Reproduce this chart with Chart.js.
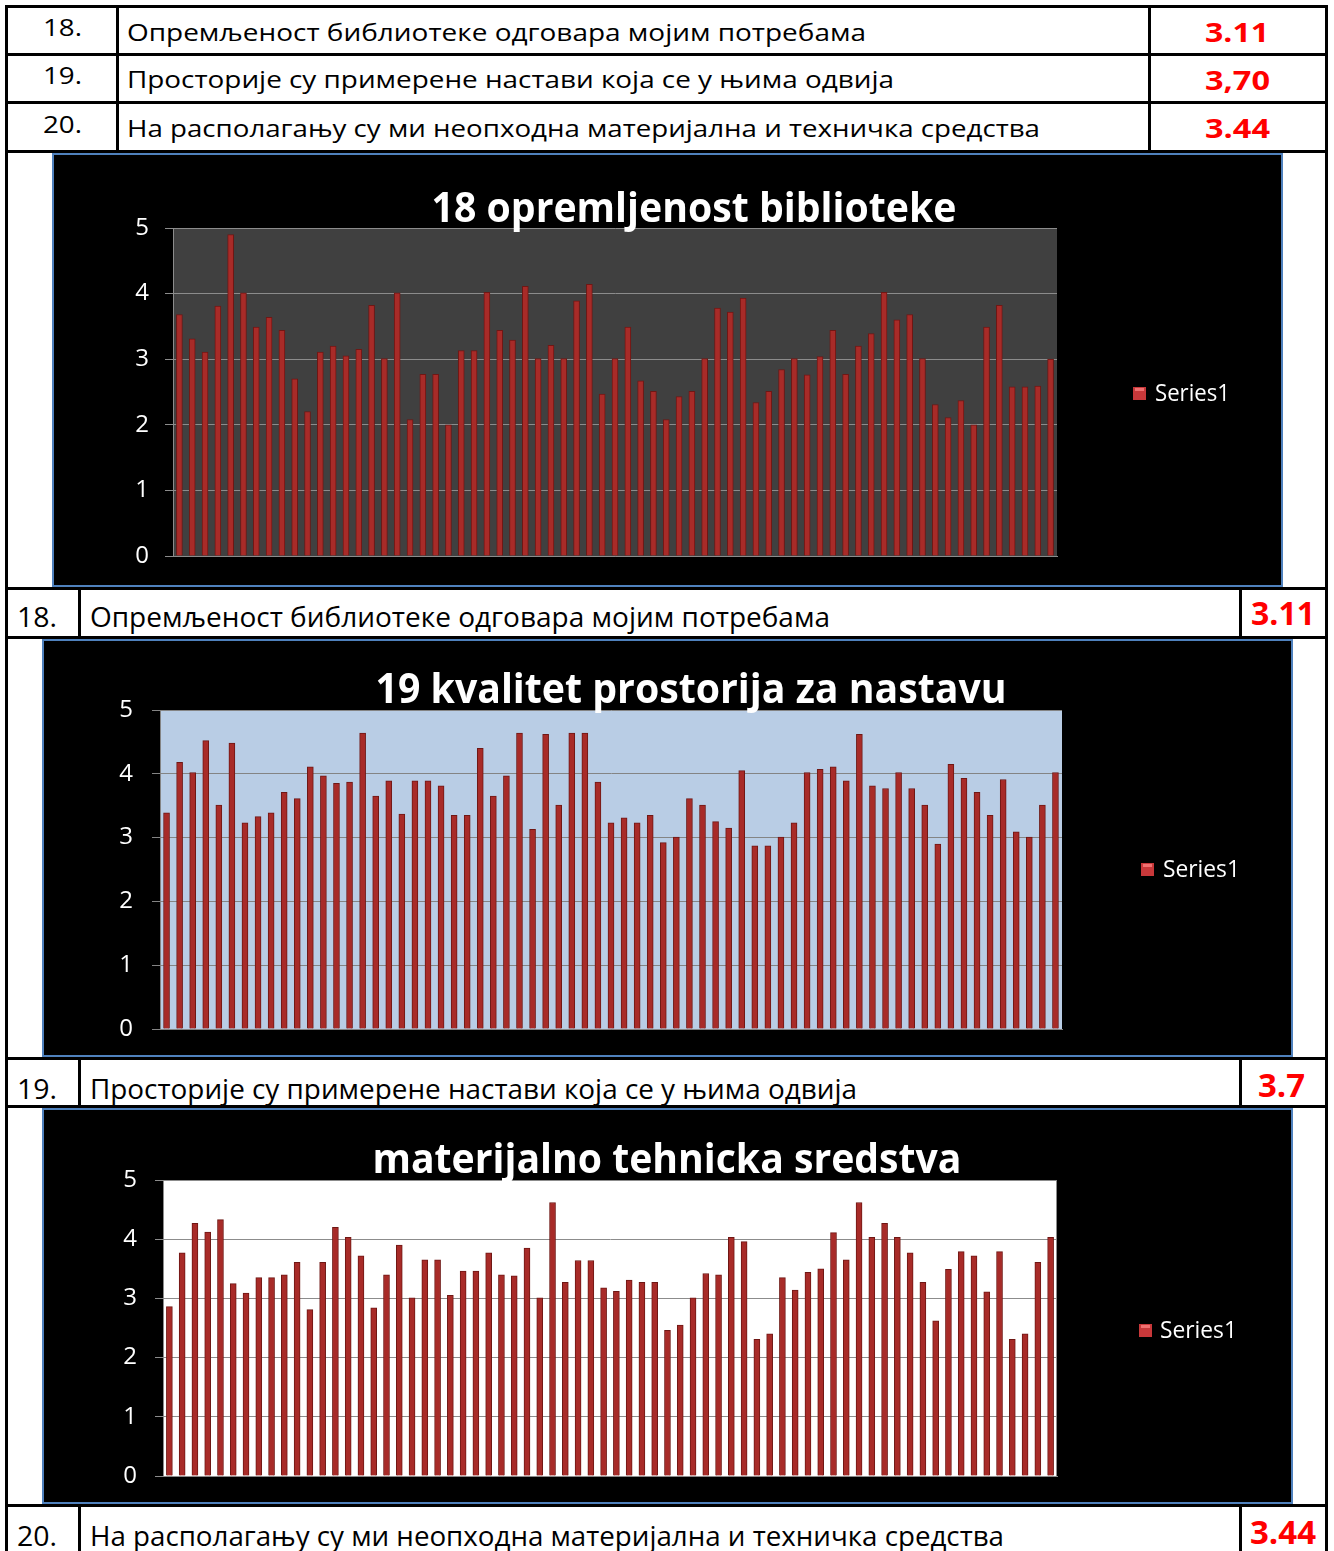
<!DOCTYPE html>
<html>
<head>
<meta charset="utf-8">
<script src="https://cdn.jsdelivr.net/npm/chart.js@4.4.1/dist/chart.umd.min.js"></script>
<style>
  html, body { margin: 0; padding: 0; background: #fff; }
  #page { position: relative; width: 1334px; height: 1551px; overflow: hidden; font-family: "Open Sans", sans-serif; }
  .ln { position: absolute; background: #000; }
  .tx { position: absolute; white-space: nowrap; line-height: 1.362; transform-origin: 0 0; color: #000; }
  .val { color: #ff0000; font-weight: bold; }
  .box { position: absolute; box-sizing: border-box; border: 2px solid #4f81bd; background: #000; }
  .box canvas { display: block; }
</style>
</head>
<body>
<div id="page"></div>
<script>
// survey items and their mean scores
const itemNumbers = ['18.', '19.', '20.'];
const itemTexts = [
    'Опремљеност библиотеке одговара мојим потребама',
    'Просторије су примерене настави која се у њима одвија',
    'На располагању су ми неопходна материјална и техничка средства'
];
const tableMeans = ['3.11', '3,70', '3.44'];
const rowMeans = ['3.11', '3.7', '3.44'];

// per-respondent averages
const libraryScores = [3.68, 3.31, 3.11, 3.81, 4.90, 4.01, 3.49, 3.64, 3.44, 2.70,
    2.20, 3.11, 3.20, 3.05, 3.15, 3.82, 3.01, 4.01, 2.08, 2.77,
    2.77, 2.00, 3.13, 3.13, 4.02, 3.44, 3.29, 4.11, 3.01, 3.21,
    3.01, 3.89, 4.14, 2.47, 3.01, 3.49, 2.67, 2.51, 2.08, 2.43,
    2.51, 3.01, 3.78, 3.72, 3.93, 2.34, 2.51, 2.84, 3.01, 2.76,
    3.04, 3.44, 2.77, 3.20, 3.39, 4.02, 3.60, 3.68, 3.01, 2.31,
    2.11, 2.37, 2.00, 3.49, 3.82, 2.58, 2.58, 2.59, 3.00];

const roomScores = [3.39, 4.18, 4.02, 4.52, 3.51, 4.48, 3.23, 3.33, 3.39, 3.71,
    3.61, 4.11, 3.97, 3.85, 3.87, 4.64, 3.65, 3.89, 3.37, 3.89,
    3.89, 3.81, 3.35, 3.35, 4.40, 3.65, 3.97, 4.64, 3.13, 4.62,
    3.51, 4.64, 4.64, 3.87, 3.23, 3.31, 3.23, 3.35, 2.92, 3.01,
    3.61, 3.51, 3.25, 3.15, 4.05, 2.87, 2.87, 3.01, 3.23, 4.02,
    4.07, 4.11, 3.89, 4.62, 3.81, 3.77, 4.02, 3.77, 3.51, 2.90,
    4.15, 3.93, 3.71, 3.35, 3.91, 3.09, 3.01, 3.51, 4.02];

const equipmentScores = [2.86, 3.77, 4.27, 4.12, 4.33, 3.25, 3.09, 3.35, 3.35, 3.40,
    3.61, 2.81, 3.61, 4.20, 4.03, 3.72, 2.84, 3.40, 3.90, 3.01,
    3.65, 3.65, 3.05, 3.46, 3.46, 3.77, 3.40, 3.38, 3.85, 3.01,
    4.62, 3.27, 3.64, 3.64, 3.18, 3.12, 3.31, 3.27, 3.27, 2.46,
    2.55, 3.01, 3.42, 3.40, 4.03, 3.96, 2.31, 2.40, 3.35, 3.14,
    3.44, 3.50, 4.11, 3.65, 4.62, 4.03, 4.27, 4.03, 3.77, 3.27,
    2.62, 3.49, 3.79, 3.72, 3.11, 3.79, 2.31, 2.40, 3.61, 4.03];

const chartTitles = ['18 opremljenost biblioteke', '19 kvalitet prostorija za nastavu', 'materijalno tehnicka sredstva'];
const seriesName = 'Series1';
const yTicks = [0, 1, 2, 3, 4, 5];

const page = document.getElementById('page');

function line(x, y, w, h) {
    const d = document.createElement('div');
    d.className = 'ln';
    d.style.cssText = `left:${x}px;top:${y}px;width:${w}px;height:${h}px`;
    page.appendChild(d);
}

// text placed by left edge and baseline, squeezed to the width seen in the scan
function text(str, left, baseline, size, width, cls) {
    const d = document.createElement('div');
    d.className = 'tx' + (cls ? ' ' + cls : '');
    d.textContent = str;
    d.style.fontSize = size + 'px';
    d.style.left = left + 'px';
    d.style.top = (baseline - 1.069 * size) + 'px';
    page.appendChild(d);
    const w = d.getBoundingClientRect().width;
    if (width && w) d.style.transform = `scaleX(${width / w})`;
}

// table grid
const T = 3;
[5, 53, 101, 150, 587, 636, 1057, 1105, 1504].forEach(y => line(5, y, 1323, T));
line(5, 5, T, 1546);
line(1325, 5, T, 1546);
line(116, 5, T, 148);
line(1148, 5, T, 148);
[[587, 52], [1057, 51], [1504, 47]].forEach(([y, h]) => {
    line(78, y, T, h);
    line(1239, y, T, h);
});

// top table
const topBase = [[37, 42, 43], [85, 89, 91], [134, 138, 139]];
const topTextW = [739, 767, 913];
const topValW = [64, 65, 65];
itemNumbers.forEach((n, i) => {
    text(n, 43, topBase[i][0], 24, 39);
    text(itemTexts[i], 127, topBase[i][1], 23, topTextW[i]);
    text(tableMeans[i], 1205, topBase[i][2], 27, topValW[i], 'val');
});

// rows under the charts
const rowBase = [627, 1099, 1546];
const rowTextW = [740, 767, 914];
const rowValLeft = [1251, 1258, 1250];
const rowValW = [64, 47, 66];
itemNumbers.forEach((n, i) => {
    text(n, 17, rowBase[i], 28, 40);
    text(itemTexts[i], 90, rowBase[i], 28, rowTextW[i]);
    text(rowMeans[i], rowValLeft[i], rowBase[i] - 1, 33, rowValW[i], 'val');
});

// plot background, title and legend drawn onto the chart canvas
const decor = {
    id: 'decor',
    beforeDraw(chart, args, o) {
        const { ctx, chartArea: a } = chart;
        ctx.save();
        ctx.fillStyle = o.bg;
        ctx.fillRect(a.left, a.top, a.right - a.left, a.bottom - a.top);
        if (o.frame) {
            ctx.strokeStyle = o.frame;
            ctx.lineWidth = 1;
            ctx.strokeRect(a.left + 0.5, a.top + 0.5, a.right - a.left - 1, a.bottom - a.top);
        }
        ctx.restore();
    },
    afterDraw(chart, args, o) {
        const ctx = chart.ctx;
        ctx.save();
        ctx.fillStyle = '#fff';
        ctx.font = 'bold 42px "Open Sans"';
        ctx.textAlign = 'center';
        ctx.textBaseline = 'alphabetic';
        let w = ctx.measureText(o.title).width;
        ctx.translate(o.titleX, o.titleY);
        ctx.scale(o.titleW / w, 1);
        ctx.fillText(o.title, 0, 0);
        ctx.restore();

        ctx.save();
        ctx.fillStyle = '#c8383a';
        ctx.fillRect(o.legX, o.legY, 13, 13);
        ctx.fillStyle = '#f07070';
        ctx.fillRect(o.legX + 2, o.legY + 1, 9, 3);
        ctx.fillStyle = '#fff';
        ctx.font = '24px "Open Sans"';
        ctx.textAlign = 'left';
        ctx.textBaseline = 'middle';
        w = ctx.measureText(seriesName).width;
        ctx.translate(o.legTextX, o.legY + 7);
        ctx.scale(o.legTextW / w, 1);
        ctx.fillText(seriesName, 0, 0);
        ctx.restore();
    }
};

function makeChart(cfg) {
    const box = document.createElement('div');
    box.className = 'box';
    box.style.cssText = `left:${cfg.x}px;top:${cfg.y}px;width:${cfg.w}px;height:${cfg.h}px`;
    const canvas = document.createElement('canvas');
    canvas.width = cfg.w - 4;
    canvas.height = cfg.h - 4;
    box.appendChild(canvas);
    page.appendChild(box);

    const labels = cfg.data.map((_, i) => String(i + 1));
    new Chart(canvas.getContext('2d'), {
        type: 'bar',
        data: {
            labels: labels,
            datasets: [{
                label: seriesName,
                data: cfg.data,
                backgroundColor: '#a82b28',
                borderColor: '#6f1714',
                borderWidth: 1,
                barThickness: 6
            }]
        },
        options: {
            responsive: false,
            animation: false,
            devicePixelRatio: 1,
            layout: { padding: { left: 0, top: cfg.pt, right: cfg.pr, bottom: cfg.pb } },
            scales: {
                x: {
                    ticks: { display: false },
                    grid: { display: false, drawTicks: false },
                    border: { display: true, color: cfg.grid },
                    afterFit: s => {
                        s.height = 0;
                        s.paddingLeft = 0;
                        s.paddingRight = 0;
                    }
                },
                y: {
                    min: yTicks[0],
                    max: yTicks[yTicks.length - 1],
                    afterBuildTicks: s => { s.ticks = yTicks.map(v => ({ value: v })); },
                    afterFit: s => {
                        s.width = cfg.left;
                        s.paddingTop = 0;
                        s.paddingBottom = 0;
                    },
                    grid: { color: cfg.grid, tickLength: 8 },
                    border: { color: cfg.grid },
                    ticks: {
                        color: '#fff',
                        padding: cfg.tickPad,
                        font: { family: 'Open Sans', size: 24 }
                    }
                }
            },
            plugins: {
                legend: { display: false },
                tooltip: { enabled: false },
                decor: cfg.decor
            }
        },
        plugins: [decor]
    });
}

makeChart({
    x: 52, y: 153, w: 1231, h: 434,
    data: libraryScores, left: 119, pt: 73, pr: 224, pb: 29, tickPad: 16, grid: '#8c8c8c',
    decor: { bg: '#404040', title: chartTitles[0], titleX: 640, titleY: 67, titleW: 525,
        legX: 1079, legY: 232, legTextX: 1101, legTextW: 75 }
});

makeChart({
    x: 42, y: 639, w: 1251, h: 418,
    data: roomScores, left: 116, pt: 69, pr: 229, pb: 26, tickPad: 19, grid: '#848484',
    decor: { bg: '#b9cde5', title: chartTitles[1], titleX: 647, titleY: 62, titleW: 631,
        legX: 1097, legY: 222, legTextX: 1119, legTextW: 77 }
});

makeChart({
    x: 42, y: 1108, w: 1251, h: 396,
    data: equipmentScores, left: 119, pt: 70, pr: 234, pb: 26, tickPad: 18, grid: '#8c8c8c',
    decor: { bg: '#ffffff', frame: '#8c8c8c', title: chartTitles[2], titleX: 623, titleY: 63, titleW: 589,
        legX: 1095, legY: 214, legTextX: 1116, legTextW: 77 }
});
</script>
</body>
</html>
